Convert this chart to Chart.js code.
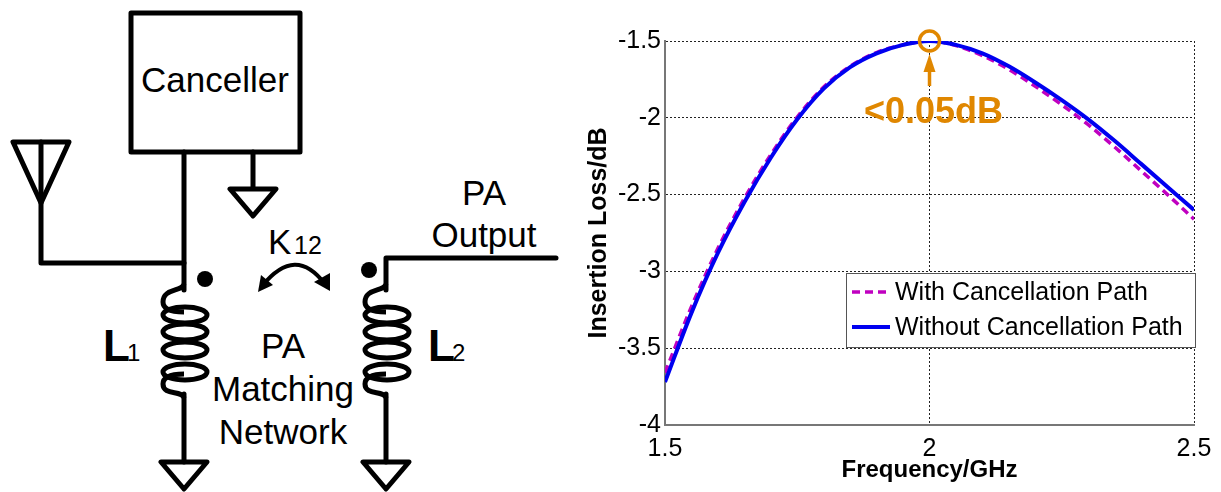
<!DOCTYPE html>
<html>
<head>
<meta charset="utf-8">
<script src="https://cdn.jsdelivr.net/npm/chart.js@4"></script>
<style>
    html, body { margin: 0; padding: 0; background: #fff; }
    #wrap { position: relative; width: 1221px; height: 492px; overflow: hidden; }
    #chart, #schematic { position: absolute; left: 0; top: 0; }
    #schematic text { font-family: "Liberation Sans", Arial, sans-serif; fill: #000; }
    .wire { fill: none; stroke: #000; stroke-width: 5; stroke-linejoin: round; stroke-linecap: round; }
    .coil { fill: none; stroke: #000; stroke-width: 5; }
</style>
</head>
<body>
<div id="wrap">
    <svg id="schematic" width="1221" height="492">
        <defs>
            <g id="ground">
                <path class="wire" d="M-23 0 H23 L0 27 Z"/>
            </g>
            <g id="inductor">
                <path class="coil" d="M0 -6 C-2 2 -21 -2 -21 12 C-21 20 -10 22 0 22"/>
                <ellipse class="coil" cx="1" cy="25" rx="22" ry="8"/>
                <ellipse class="coil" cx="1" cy="42" rx="22" ry="8"/>
                <ellipse class="coil" cx="1" cy="60" rx="22" ry="8"/>
                <ellipse class="coil" cx="1" cy="82" rx="22" ry="8"/>
                <path class="coil" d="M0 84 C-10 84 -21 86 -21 94 C-21 106 -2 100 0 108"/>
            </g>
        </defs>

        <rect class="wire" x="131" y="13" width="169" height="139"/>
        <text x="215" y="92" font-size="35" text-anchor="middle">Canceller</text>

        <path class="wire" d="M184 152 V290"/>
        <path class="wire" d="M41 142 V263 H184"/>
        <path class="wire" d="M13 142 H69 L41 203 Z"/>
        <path class="wire" d="M253 152 V188"/>
        <use href="#ground" x="253" y="189"/>

        <circle cx="205" cy="279" r="8"/>
        <circle cx="369" cy="270" r="8"/>

        <use href="#inductor" x="184" y="290"/>
        <use href="#inductor" x="386" y="290"/>
        <path class="wire" d="M184 394 V462"/>
        <use href="#ground" x="184" y="462"/>
        <path class="wire" d="M386 394 V462"/>
        <use href="#ground" x="386" y="462"/>
        <path class="wire" d="M556 258 H386 V290"/>

        <path d="M262 286 C285 258 305 258 325 284" fill="none" stroke="#000" stroke-width="4"/>
        <path d="M258 292 L261 275 L273 285 Z"/>
        <path d="M330 291 L314 282 L330 273 Z"/>

        <text x="484" y="205" font-size="35" text-anchor="middle">PA</text>
        <text x="484" y="247" font-size="35" text-anchor="middle">Output</text>
        <text x="268" y="254" font-size="35">K</text>
        <text x="294" y="254" font-size="25">12</text>
        <text x="103" y="361" font-size="44" font-weight="bold">L</text>
        <text x="127" y="361" font-size="24">1</text>
        <text x="428" y="361" font-size="44" font-weight="bold">L</text>
        <text x="452" y="361" font-size="24">2</text>
        <text x="283" y="358" font-size="35" text-anchor="middle">PA</text>
        <text x="283" y="401" font-size="35" text-anchor="middle">Matching</text>
        <text x="283" y="444" font-size="35" text-anchor="middle">Network</text>
    </svg>
    <canvas id="chart" width="1221" height="492"></canvas>
</div>
<script>
const frequency = [1.5, 1.55, 1.6, 1.65, 1.7, 1.75, 1.8, 1.85, 1.9, 1.95, 2, 2.05, 2.1, 2.15, 2.2, 2.25, 2.3, 2.35, 2.4, 2.45, 2.5];
const withPath = [-3.66, -3.23, -2.85, -2.525, -2.24, -1.995, -1.8, -1.665, -1.575, -1.525, -1.5, -1.53, -1.595, -1.685, -1.795, -1.915, -2.045, -2.19, -2.345, -2.5, -2.66];
const withoutPath = [-3.72, -3.27, -2.88, -2.55, -2.26, -2.01, -1.81, -1.67, -1.58, -1.525, -1.5, -1.525, -1.58, -1.665, -1.77, -1.885, -2.01, -2.15, -2.3, -2.45, -2.6];
const xTicks = [1.5, 2, 2.5];
const yTicks = [-4, -3.5, -3, -2.5, -2, -1.5];

const toPoints = (ys) => ys.map((y, i) => ({ x: frequency[i], y: y }));
const orange = "#e08700";
const textFont = '"Liberation Sans", Arial, sans-serif';

const notePlugin = {
    id: 'note',
    afterDatasetsDraw(chart) {
        const { ctx, scales } = chart;
        const cx = scales.x.getPixelForValue(2);
        const cy = scales.y.getPixelForValue(-1.5);

        ctx.save();
        ctx.strokeStyle = orange;
        ctx.fillStyle = orange;
        ctx.lineWidth = 3.5;
        ctx.beginPath();
        ctx.arc(cx, cy, 10, 0, Math.PI * 2);
        ctx.stroke();

        ctx.beginPath();
        ctx.moveTo(cx, cy + 45);
        ctx.lineTo(cx, cy + 22);
        ctx.stroke();
        ctx.beginPath();
        ctx.moveTo(cx, cy + 13);
        ctx.lineTo(cx - 6, cy + 31);
        ctx.lineTo(cx + 6, cy + 31);
        ctx.closePath();
        ctx.fill();

        ctx.font = 'bold 36px ' + textFont;
        ctx.textAlign = 'center';
        ctx.textBaseline = 'middle';
        ctx.fillText('<0.05dB', cx + 4, cy + 72);
        ctx.restore();
    }
};

const legendPlugin = {
    id: 'boxLegend',
    afterDraw(chart) {
        const { ctx } = chart;
        const rows = [chart.data.datasets[0], chart.data.datasets[1]];
        ctx.save();
        ctx.fillStyle = '#fff';
        ctx.strokeStyle = '#555';
        ctx.lineWidth = 1;
        ctx.fillRect(846, 273, 349, 74);
        ctx.strokeRect(846.5, 273.5, 349, 74);

        rows.forEach((ds, i) => {
            const y = 292 + i * 35;
            ctx.strokeStyle = ds.borderColor;
            ctx.lineWidth = ds.borderWidth;
            ctx.setLineDash(ds.borderDash || []);
            ctx.beginPath();
            ctx.moveTo(852, y);
            ctx.lineTo(890, y);
            ctx.stroke();
            ctx.fillStyle = '#000';
            ctx.font = '25px ' + textFont;
            ctx.textBaseline = 'middle';
            ctx.fillText(ds.label, 895, y + 1);
        });
        ctx.restore();
    }
};

new Chart(document.getElementById('chart'), {
    type: 'line',
    data: {
        datasets: [{
            label: "With Cancellation Path",
            data: toPoints(withPath),
            borderColor: "#c000c0",
            borderWidth: 3.5,
            borderDash: [8, 5],
            order: 2
        }, {
            label: "Without Cancellation Path",
            data: toPoints(withoutPath),
            borderColor: "#0000f0",
            borderWidth: 4,
            order: 1
        }]
    },
    options: {
        responsive: false,
        animation: false,
        events: [],
        layout: { padding: { left: 584, top: 41, right: 27, bottom: 0 } },
        elements: {
            point: { radius: 0 },
            line: { cubicInterpolationMode: 'monotone' }
        },
        scales: {
            x: {
                type: 'linear',
                min: 1.5,
                max: 2.5,
                afterBuildTicks: (scale) => { scale.ticks = xTicks.map(v => ({ value: v })); },
                afterFit: (scale) => { scale.height = 67; },
                ticks: {
                    color: "#000",
                    maxRotation: 0,
                    autoSkip: false,
                    padding: 9,
                    font: { family: textFont, size: 25 },
                    callback: (v) => String(v)
                },
                grid: { color: "#222", lineWidth: 1, drawTicks: false },
                border: { display: true, color: "#777", width: 2, dash: [2, 2] },
                title: {
                    display: true,
                    text: "Frequency/GHz",
                    color: "#000",
                    padding: { top: 0, bottom: 7 },
                    font: { family: textFont, size: 24, weight: 'bold' }
                }
            },
            y: {
                min: -4,
                max: -1.5,
                afterBuildTicks: (scale) => { scale.ticks = yTicks.map(v => ({ value: v })); },
                afterFit: (scale) => { scale.width = 81; },
                ticks: {
                    color: "#000",
                    autoSkip: false,
                    padding: 4,
                    font: { family: textFont, size: 25 },
                    callback: (v) => String(v)
                },
                grid: { color: "#222", lineWidth: 1, drawTicks: false },
                border: { display: true, color: "#777", width: 2, dash: [2, 2] },
                title: {
                    display: true,
                    text: "Insertion Loss/dB",
                    color: "#000",
                    padding: { top: 0, bottom: 0 },
                    font: { family: textFont, size: 25, weight: 'bold' }
                }
            }
        },
        plugins: {
            legend: { display: false },
            tooltip: { enabled: false }
        }
    },
    plugins: [notePlugin, legendPlugin]
});
</script>
</body>
</html>
